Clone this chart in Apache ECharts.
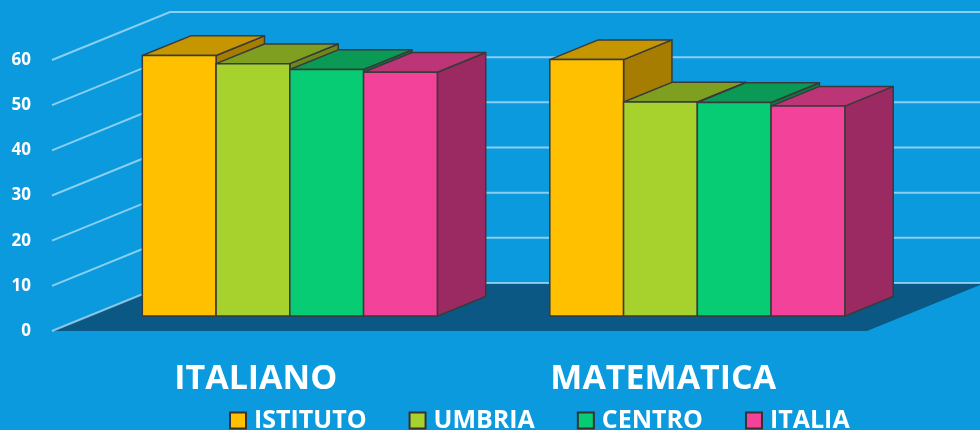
<!DOCTYPE html>
<html>
<head>
<meta charset="utf-8">
<script src="https://cdn.jsdelivr.net/npm/echarts@6/dist/echarts.min.js"></script>
<style>
  html, body { margin: 0; padding: 0; background: #0b9ade; }
  #main { width: 980px; height: 430px; }
</style>
</head>
<body>
<div id="main"></div>
<script>
var categories = ['ITALIANO', 'MATEMATICA'];
var seriesNames = ['ISTITUTO', 'UMBRIA', 'CENTRO', 'ITALIA'];
var istituto = [57.7, 56.8];
var umbria = [55.9, 47.4];
var centro = [54.6, 47.3];
var italia = [54.0, 46.5];
var yTicks = [0, 10, 20, 30, 40, 50, 60];

// colori: fronte, sopra, lato
var colors = [
    ['#ffc000', '#c59600', '#a67d00'],
    ['#a7d12c', '#7f9f20', '#6b881a'],
    ['#07cc74', '#0a9a55', '#087d45'],
    ['#f2429a', '#bb3577', '#9b2a63']
];
var DEPTH = [118, -48];   // profondita del pavimento (px)
var BAR_Z0 = 0.31, BAR_Z1 = 0.72;
var BAR_SHARE = 0.181;
var BAR_SHIFT = -2.5;

var chart = echarts.init(document.getElementById('main'));

function renderFloor(params, api) {
    var band = api.size([1, 0])[0];
    var L = api.coord([0, 0])[0] - band / 2;
    var R = api.coord([1, 0])[0] + band / 2;
    var y0 = api.coord([0, 0])[1];
    var children = [{
        type: 'polygon',
        shape: { points: [[L, y0], [L + DEPTH[0], y0 + DEPTH[1]], [R + DEPTH[0], y0 + DEPTH[1]], [R, y0]] },
        style: { fill: '#0a5883' }
    }];
    yTicks.forEach(function (t) {
        var py = api.coord([0, t])[1];
        children.push({
            type: 'polyline',
            shape: { points: [[L, py], [L + DEPTH[0], py + DEPTH[1]], [R + DEPTH[0], py + DEPTH[1]]] },
            style: { stroke: 'rgba(190,230,250,0.7)', lineWidth: 2, fill: null }
        });
    });
    return { type: 'group', children: children };
}

function renderBar(params, api) {
    var si = params.seriesIndex - 1;
    var cat = api.value(0), val = api.value(1);
    var band = api.size([1, 0])[0];
    var base = api.coord([cat, 0]);
    var top = api.coord([cat, val]);
    var bw = band * BAR_SHARE;
    var x0 = base[0] + DEPTH[0] * BAR_Z0 + (si - 2) * bw + BAR_SHIFT;
    var y0 = base[1] + DEPTH[1] * BAR_Z0;
    var y1 = top[1] + DEPTH[1] * BAR_Z0;
    var dx = DEPTH[0] * (BAR_Z1 - BAR_Z0), dy = DEPTH[1] * (BAR_Z1 - BAR_Z0);
    var c = colors[si];
    var line = { stroke: '#3a3a3a', lineWidth: 1.5, lineJoin: 'round' };
    return {
        type: 'group',
        children: [
            { type: 'polygon', shape: { points: [[x0 + bw, y1], [x0 + bw + dx, y1 + dy], [x0 + bw + dx, y0 + dy], [x0 + bw, y0]] },
              style: Object.assign({ fill: c[2] }, line) },
            { type: 'polygon', shape: { points: [[x0, y1], [x0 + dx, y1 + dy], [x0 + bw + dx, y1 + dy], [x0 + bw, y1]] },
              style: Object.assign({ fill: c[1] }, line) },
            { type: 'rect', shape: { x: x0, y: y1, width: bw, height: y0 - y1 },
              style: Object.assign({ fill: c[0] }, line) }
        ]
    };
}

function barSeries(i, vals) {
    return {
        name: seriesNames[i],
        type: 'custom',
        renderItem: renderBar,
        itemStyle: { color: colors[i][0] },
        data: vals.map(function (v, k) { return [k, v]; })
    };
}

var option = {
    backgroundColor: '#0b9ade',
    animation: false,
    grid: { left: 52, right: 113, top: 60, bottom: 99 },
    legend: {
        data: seriesNames,
        left: 229, top: 408,
        padding: 0,
        icon: 'rect',
        itemWidth: 16, itemHeight: 16,
        itemGap: 42,
        itemStyle: { borderColor: '#333', borderWidth: 2 },
        textStyle: { color: '#fff', fontSize: 25, fontWeight: 'bold', fontFamily: 'Open Sans', padding: [0, 0, 0, 3] }
    },
    xAxis: {
        type: 'category',
        data: categories,
        axisLine: { show: false },
        axisTick: { show: false },
        axisLabel: { color: '#fff', fontSize: 34, fontWeight: 'bold', fontFamily: 'Open Sans', margin: 31 }
    },
    yAxis: {
        type: 'value',
        min: 0, max: 60, interval: 10,
        axisLine: { show: false },
        axisTick: { show: false },
        splitLine: { show: false },
        axisLabel: { color: '#fff', fontSize: 17, fontWeight: 'bold', fontFamily: 'Open Sans', margin: 21 }
    },
    series: [
        { type: 'custom', renderItem: renderFloor, data: [[0, 0]], silent: true },
        barSeries(0, istituto),
        barSeries(1, umbria),
        barSeries(2, centro),
        barSeries(3, italia)
    ]
};
chart.setOption(option);
</script>
</body>
</html>
